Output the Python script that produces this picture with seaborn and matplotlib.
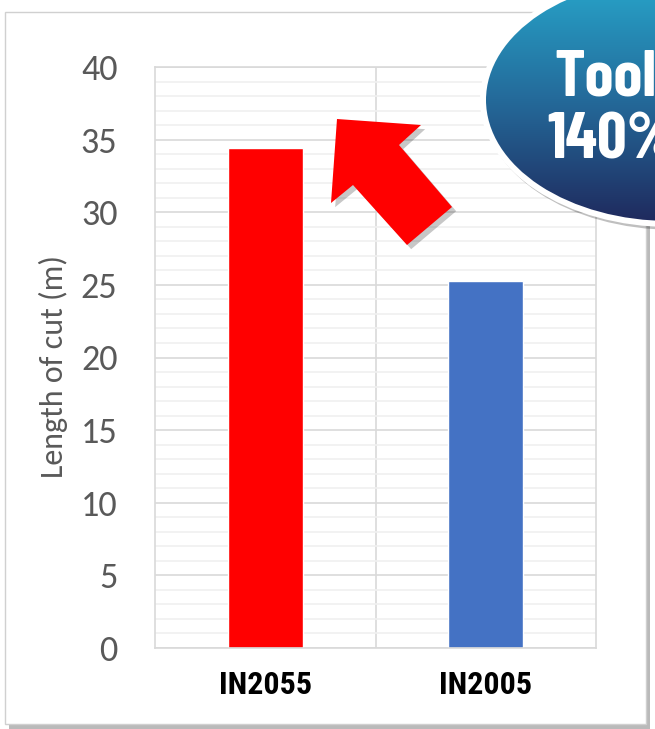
import numpy as np
import pandas as pd
import matplotlib as mpl
import matplotlib.pyplot as plt
import matplotlib.patheffects as pe
from matplotlib.patches import Rectangle, Ellipse, Polygon
import seaborn as sns

# data
tools = ["IN2055", "IN2005"]
cut_length = [34.4, 25.3]
bar_colors = ["#FF0000", "#4472C4"]
y_ticks = [0, 5, 10, 15, 20, 25, 30, 35, 40]
badge_lines = ["Tool", "140%"]

W, H = 655, 729
dat = pd.DataFrame({"tool": tools, "length": cut_length})

sns.set_theme(style="white")
fig = plt.figure(figsize=(W / 100, H / 100), dpi=100)
fig.patch.set_facecolor("white")

# background layer in pixel coords: white panel with drop shadow
bg = fig.add_axes([0, 0, 1, 1], zorder=0)
bg.set_xlim(0, W)
bg.set_ylim(H, 0)
bg.axis("off")
bg.add_patch(Rectangle((9, 16), 641, 713, facecolor="#8C8C8C", edgecolor="none", alpha=0.6))
bg.add_patch(Rectangle((5, 12), 641, 712, facecolor="white", edgecolor="#D0D0D0", lw=1))

ax = fig.add_axes([155 / W, 1 - 648 / H, 441 / W, 581 / H], zorder=1)
ax.patch.set_alpha(0)
sns.barplot(data=dat, x="tool", y="length", hue="tool", palette=bar_colors,
            width=0.34, saturation=1, legend=False, ax=ax)
ax.set_xlim(-0.5, 1.5)
ax.set_ylim(0, 40)
ax.set_yticks(y_ticks)
ax.set_yticks(np.arange(0, 41, 1), minor=True)
ax.set_axisbelow(True)
ax.grid(which="minor", axis="y", color="#F0F0F0", lw=1.2)
ax.grid(which="major", axis="y", color="#D9D9D9", lw=1.2)
ax.axvline(0.5, color="#D9D9D9", lw=1.2, zorder=0)
for s in ax.spines.values():
    s.set_color("#D9D9D9")
    s.set_linewidth(1.2)
ax.tick_params(which="both", length=0)
ax.tick_params(axis="y", pad=27, labelsize=26, labelcolor="#595959")
ax.tick_params(axis="x", pad=16)
for lab in ax.get_yticklabels():
    lab.set_family("Carlito")
for lab in ax.get_xticklabels():
    lab.set_family("Roboto Condensed")
    lab.set_fontweight("bold")
    lab.set_fontsize(23)
    lab.set_color("black")
ax.set_xlabel("")
ax.set_ylabel("Length of cut (m)", fontsize=23, color="#595959", family="Carlito")
ax.yaxis.set_label_coords(-0.197, 0.485)

# red block arrow and the badge on top
top = fig.add_axes([0, 0, 1, 1], zorder=2)
top.set_xlim(0, W)
top.set_ylim(H, 0)
top.axis("off")
arrow = Polygon([(337, 119), (421, 125), (399, 145), (452, 207), (407, 245),
                 (353, 185), (331, 203)], closed=True, facecolor="#FF0000", edgecolor="none")
arrow.set_path_effects([pe.SimplePatchShadow(offset=(3, -3), shadow_rgbFace="black", alpha=0.22),
                        pe.Normal()])
top.add_patch(arrow)

ell_border = Ellipse((670, 100), 380, 254, facecolor="white", edgecolor="none")
ell_border.set_path_effects([pe.SimplePatchShadow(offset=(2, -2), shadow_rgbFace="black", alpha=0.25),
                             pe.Normal()])
top.add_patch(ell_border)
ell = Ellipse((670, 100), 368, 242, facecolor="none", edgecolor="none")
top.add_patch(ell)
grad = np.linspace(0, 1, 256).reshape(-1, 1)
cmap = mpl.colors.LinearSegmentedColormap.from_list("badge", ["#27A6CB", "#246A9A", "#1F2A5E"])
img = top.imshow(grad, cmap=cmap, extent=(486, 860, 222, -22), aspect="auto", zorder=3)
img.set_clip_path(ell)
top.set_xlim(0, W)
top.set_ylim(H, 0)
for line, (tx, ty) in zip(badge_lines, [(554, 95), (547, 158)]):
    top.text(tx, ty, line, color="white", fontsize=47, fontweight="bold",
             family="Barlow Condensed", ha="left", va="baseline", zorder=4)

fig.savefig("out.png", dpi=100)
